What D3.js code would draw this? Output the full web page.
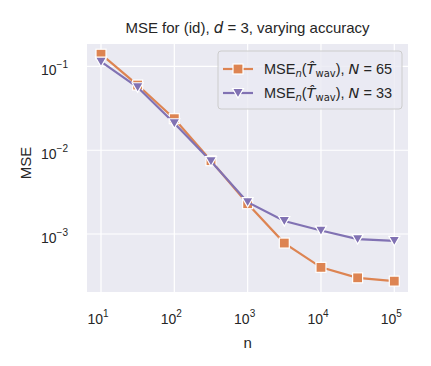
<!DOCTYPE html>
<html>
<head>
<meta charset="utf-8">
<script src="https://cdn.jsdelivr.net/npm/d3@7"></script>
<style>
  body { margin: 0; background: #fff; }
  text { font-family: "Liberation Sans", Arial, sans-serif; fill: #262626; }
  .math { font-family: "DejaVu Sans", sans-serif; }
</style>
</head>
<body>
<div id="chart"></div>
<script>
// data
let nValues = [10, 31.62, 100, 316.2, 1000, 3162, 10000, 31623, 100000]
let mse65 = [0.14, 0.060, 0.0238, 0.0075, 0.0023, 0.00078, 0.00040, 0.00030, 0.000274]
let mse33 = [0.114, 0.0565, 0.021, 0.0074, 0.0024, 0.00143, 0.0011, 0.00087, 0.00083]
let xTicks = [1e1, 1e2, 1e3, 1e4, 1e5]
let yTicks = [1e-1, 1e-2, 1e-3]

let width = 431, height = 366
let margin = {left: 87, right: 23, top: 44, bottom: 74}
let plotW = width - margin.left - margin.right
let plotH = height - margin.top - margin.bottom

let svg = d3.select('#chart').append('svg')
  .attr('width', width)
  .attr('height', height)

let x = d3.scaleLog()
  .domain([Math.pow(10, 0.809), Math.pow(10, 5.187)])
  .range([margin.left, margin.left + plotW])

let y = d3.scaleLog()
  .domain([Math.pow(10, -3.692), Math.pow(10, -0.732)])
  .range([margin.top + plotH, margin.top])

// background
svg.append('rect')
  .attr('x', margin.left).attr('y', margin.top)
  .attr('width', plotW).attr('height', plotH)
  .attr('fill', '#EAEAF2')

// grid
svg.selectAll('.vgrid').data(xTicks).enter().append('line')
  .attr('x1', d => x(d)).attr('x2', d => x(d))
  .attr('y1', margin.top).attr('y2', margin.top + plotH)
  .attr('stroke', '#fff').attr('stroke-width', 1.2)

svg.selectAll('.hgrid').data(yTicks).enter().append('line')
  .attr('y1', d => y(d)).attr('y2', d => y(d))
  .attr('x1', margin.left).attr('x2', margin.left + plotW)
  .attr('stroke', '#fff').attr('stroke-width', 1.2)

// tick labels with superscripts
function powLabel(sel, exp) {
  sel.append('tspan').text('10')
  sel.append('tspan').attr('dy', -7).attr('font-size', 10)
    .text(exp < 0 ? '\u2212' + (-exp) : exp)
}

xTicks.forEach(t => {
  let e = Math.round(Math.log10(t))
  let txt = svg.append('text')
    .attr('x', x(t) - 3).attr('y', margin.top + plotH + 32)
    .attr('text-anchor', 'middle').attr('font-size', 14)
  powLabel(txt, e)
})

yTicks.forEach(t => {
  let e = Math.round(Math.log10(t))
  let txt = svg.append('text')
    .attr('x', margin.left - 46).attr('y', y(t) + 9)
    .attr('font-size', 14)
  powLabel(txt, e)
})

// axis labels
svg.append('text')
  .attr('x', x(1000)).attr('y', 348)
  .attr('text-anchor', 'middle').attr('font-size', 15)
  .text('n')

svg.append('text')
  .attr('transform', `translate(31, ${margin.top + plotH / 2 - 5}) rotate(-90)`)
  .attr('text-anchor', 'middle').attr('font-size', 15)
  .text('MSE')

// title
let title = svg.append('text')
  .attr('x', margin.left + plotW / 2).attr('y', 33)
  .attr('text-anchor', 'middle').attr('font-size', 15)
title.append('tspan').text('MSE for (id), ')
title.append('tspan').attr('class', 'math').attr('font-style', 'italic').text('d')
title.append('tspan').text(' = 3, varying accuracy')

let series = [
  {values: mse65, color: '#DD8452', marker: 'square', label: '65'},
  {values: mse33, color: '#8172B3', marker: 'tri', label: '33'}
]

let line = d3.line()
  .x(d => x(d[0]))
  .y(d => y(d[1]))

function drawMarker(g, type, color, cx, cy) {
  if (type === 'square') {
    g.append('rect')
      .attr('x', cx - 5).attr('y', cy - 5)
      .attr('width', 10).attr('height', 10)
      .attr('fill', color).attr('stroke', '#fff').attr('stroke-width', 1.2)
  } else {
    g.append('path')
      .attr('d', `M${cx - 5.5},${cy - 4.5}L${cx + 5.5},${cy - 4.5}L${cx},${cy + 5}Z`)
      .attr('fill', color).attr('stroke', '#fff').attr('stroke-width', 1.2)
  }
}

series.forEach(s => {
  let pts = nValues.map((n, i) => [n, s.values[i]])
  svg.append('path')
    .datum(pts)
    .attr('d', line)
    .attr('fill', 'none')
    .attr('stroke', s.color)
    .attr('stroke-width', 2.2)
  let g = svg.append('g')
  pts.forEach(p => drawMarker(g, s.marker, s.color, x(p[0]), y(p[1])))
})

// legend
let lg = svg.append('g')
lg.append('rect')
  .attr('x', 218).attr('y', 51).attr('width', 184).attr('height', 58)
  .attr('rx', 3)
  .attr('fill', '#EAEAF2').attr('fill-opacity', 0.8)
  .attr('stroke', '#cccccc').attr('stroke-width', 1)

series.forEach((s, i) => {
  let ly = 69 + i * 24
  lg.append('line')
    .attr('x1', 223).attr('x2', 253).attr('y1', ly).attr('y2', ly)
    .attr('stroke', s.color).attr('stroke-width', 2.2)
  drawMarker(lg, s.marker, s.color, 238, ly)
  let t = lg.append('text')
    .attr('x', 264).attr('y', ly + 5)
    .attr('font-size', 14.5)
  t.append('tspan').text('MSE')
  t.append('tspan').attr('class', 'math').attr('font-style', 'italic')
    .attr('font-size', 10).attr('dy', 3).text('n')
  t.append('tspan').attr('dy', -3).text('(')
  t.append('tspan').attr('class', 'math').attr('font-style', 'italic').text('T\u0302')
  t.append('tspan').attr('class', 'math').attr('font-size', 10).attr('dy', 3).text('wav')
  t.append('tspan').attr('dy', -3).text('), ')
  t.append('tspan').attr('class', 'math').attr('font-style', 'italic').text('N')
  t.append('tspan').text(' = ' + s.label)
})
</script>
</body>
</html>
